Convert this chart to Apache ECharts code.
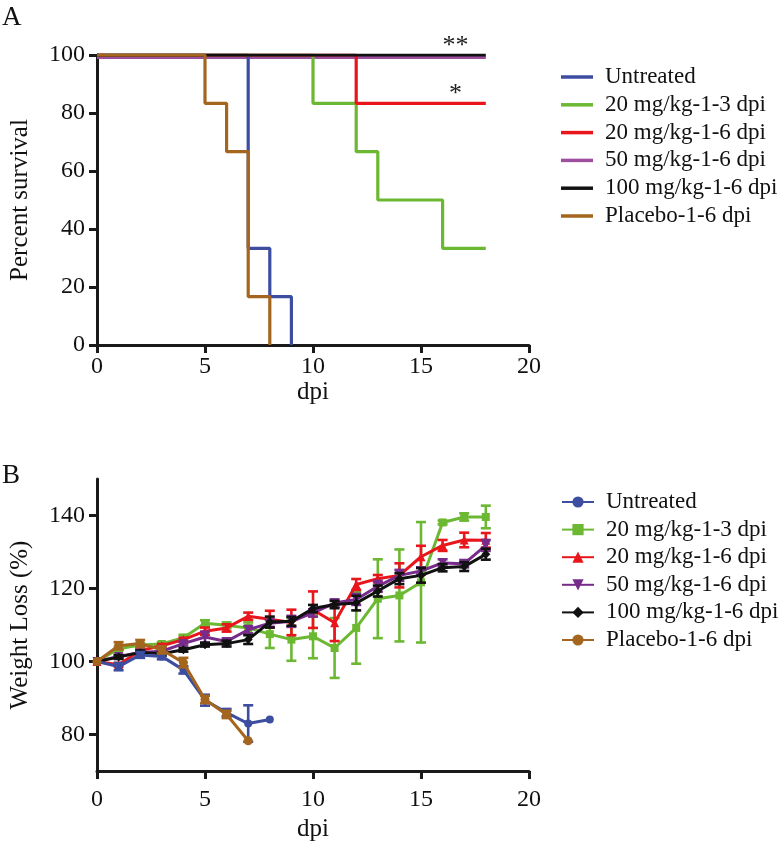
<!DOCTYPE html>
<html>
<head>
<meta charset="utf-8">
<script src="https://cdn.jsdelivr.net/npm/echarts@6/dist/echarts.min.js"></script>
<style>
html,body{margin:0;padding:0;background:#fff;}
#c{width:781px;height:843px;}
</style>
</head>
<body>
<div id="c"></div>
<script>
// ---------- Data ----------
const seriesNames = ['Untreated','20 mg/kg-1-3 dpi','20 mg/kg-1-6 dpi','50 mg/kg-1-6 dpi','100 mg/kg-1-6 dpi','Placebo-1-6 dpi'];
const xTicksA = [0,5,10,15,20];
const yTicksA = [0,20,40,60,80,100];
const yTicksB = [80,100,120,140];

// Panel A: survival step data [dpi, percent]
const survUntreated = [[0,100],[7,33.33],[8,16.67],[9,0]];
const survG20_13    = [[0,100],[10,83.33],[12,66.67],[13,50],[16,33.33],[18,33.33]];
const survG20_16    = [[0,100],[12,83.33],[18,83.33]];
const survG50_16    = [[0,99.2],[18,99.2]];
const survG100_16   = [[0,100],[18,100]];
const survPlacebo   = [[0,100],[5,83.33],[6,66.67],[7,16.67],[8,0]];

// Panel B: weight (%) mean and error per dpi
const dpiB = [0,1,2,3,4,5,6,7,8,9,10,11,12,13,14,15,16,17,18];
const wUntreated = [100,98.6,101.8,101.4,97.7,89.4,86.0,83.0,84.1];
const eUntreated = [0,1,0.8,0.8,1,1.5,1,5,0];
const wG20_13 = [100,103.5,104.5,104.8,106.5,110.5,109.9,109.2,107.5,106.0,106.9,103.7,109.2,117.2,118.1,121.7,138.1,139.6,139.6];
const eG20_13 = [0,0.5,0.5,0.5,0.8,0.8,0.8,1.5,3.8,5.8,6,8.2,9.8,10.8,12.6,16.5,0.5,1,3.1];
const wG20_16 = [100,99.1,103.0,104.3,106.0,108.3,109.2,112.4,111.6,110.7,114.2,110.6,121.1,122.7,123.6,128.7,131.8,133.3,133.2];
const eG20_16 = [0,0.5,0.5,0.5,0.5,1,1,1,2.3,3.5,5,5,1.5,1,3.3,3,1.5,2,2];
const wG50_16 = [100,101.4,102.5,102.8,104.9,106.7,105.5,108.7,110.5,111.0,113.3,116.0,117.0,120.6,123.6,124.8,127.0,126.8,131.8];
const eG50_16 = [0,0.5,0.5,0.5,0.5,1.5,0.8,1,1,1.5,1,1,1.5,1.5,1.5,1,1,1,1.5];
const wG100_16 = [100,101.2,102.5,102.1,103.2,104.6,104.9,106.0,110.8,111.0,114.5,115.6,116.0,119.3,122.7,123.6,125.7,126.0,129.4];
const eG100_16 = [0,0.5,0.5,0.5,0.5,0.5,0.8,1.2,1.5,1.2,1,1,2,1.5,1.5,2,1,1.2,1.5];
const wPlacebo = [100,104.3,104.9,103.2,99.7,89.6,85.5,78.3];
const ePlacebo = [0,1,1,1,1.3,1,1,0];

// ---------- Styling ----------
const FONT = 'Liberation Serif';
const colA = ['#3D4DA0','#6CB832','#E8161C','#9E4FA0','#111111','#A4661E'];
const colB = ['#3D4DA0','#6CB832','#E8161C','#772C8C','#111111','#A4661E'];
const AX = '#1a1a1a';

const chart = echarts.init(document.getElementById('c'), null, {renderer:'canvas'});

function axisCommon(){
  return {
    axisLine:{show:true, onZero:false, lineStyle:{color:AX, width:3}},
    axisTick:{show:true, inside:false, length:8, lineStyle:{color:AX, width:3}},
    splitLine:{show:false},
    axisLabel:{color:'#111', fontFamily:FONT, fontSize:24, margin:12},
    nameTextStyle:{color:'#111', fontFamily:FONT, fontSize:25}
  };
}

const survData = [survUntreated, survG20_13, survG20_16, survG50_16, survG100_16, survPlacebo];
const drawOrderA = [3,0,1,2,4,5];
const wData = [wUntreated, wG20_13, wG20_16, wG50_16, wG100_16, wPlacebo];
const eData = [eUntreated, eG20_13, eG20_16, eG50_16, eG100_16, ePlacebo];
const drawOrderB = [1,2,3,4,0,5];
const symbols = ['circle','rect','triangle','triangle','diamond','circle'];
const symRot = [0,0,0,180,0,0];
const symSize = [8,8,9,9,9,9];

const series = [];
drawOrderA.forEach((i, k) => {
  const s = {
    name: seriesNames[i], type:'line', xAxisIndex:0, yAxisIndex:0,
    data: survData[i], step:'end', symbol:'none', showSymbol:false,
    lineStyle:{color:colA[i], width:3.2}, itemStyle:{color:colA[i]},
    z: 2 + k, silent:true, animation:false
  };
  if (i === 4) {
    s.markPoint = {symbol:'circle', symbolSize:0, silent:true, animation:false,
      data:[{coord:[16.6,100], label:{show:true, formatter:'**', position:'top', distance:-4, color:'#222', fontFamily:FONT, fontSize:26}}]};
  }
  if (i === 2) {
    s.markPoint = {symbol:'circle', symbolSize:0, silent:true, animation:false,
      data:[{coord:[16.6,83.33], label:{show:true, formatter:'*', position:'top', distance:-4, color:'#222', fontFamily:FONT, fontSize:26}}]};
  }
  series.push(s);
});

function errRender(color){
  return function(params, api){
    const x = api.value(0), lo = api.value(1), hi = api.value(2);
    const p1 = api.coord([x, lo]), p2 = api.coord([x, hi]);
    const w = 5;
    const st = {stroke:color, lineWidth:2.6};
    return {type:'group', children:[
      {type:'line', shape:{x1:p1[0],y1:p1[1],x2:p2[0],y2:p2[1]}, style:st},
      {type:'line', shape:{x1:p1[0]-w,y1:p1[1],x2:p1[0]+w,y2:p1[1]}, style:st},
      {type:'line', shape:{x1:p2[0]-w,y1:p2[1],x2:p2[0]+w,y2:p2[1]}, style:st}
    ]};
  };
}

drawOrderB.forEach((i, k) => {
  const pts = wData[i].map((v, j) => [dpiB[j], v]);
  const errs = wData[i].map((v, j) => [dpiB[j], v - eData[i][j], v + eData[i][j]]).filter((d, j) => eData[i][j] > 0);
  series.push({
    name: 'B:' + seriesNames[i], type:'line', xAxisIndex:1, yAxisIndex:1,
    data: pts, symbol: symbols[i], symbolRotate: symRot[i], symbolSize: symSize[i], showSymbol:true,
    lineStyle:{color:colB[i], width:3}, itemStyle:{color:colB[i]},
    z: 10 + k*2, silent:true, animation:false
  });
  series.push({
    type:'custom', xAxisIndex:1, yAxisIndex:1, data: errs,
    renderItem: errRender(colB[i]), z: 11 + k*2, silent:true, animation:false
  });
});

const legendText = {color:'#111', fontFamily:FONT, fontSize:23, lineHeight:26, padding:[0,0,0,7]};

const option = {
  animation:false,
  backgroundColor:'#fff',
  textStyle:{fontFamily:FONT},
  graphic:[
    {type:'text', left:2, top:4, style:{text:'A', fontFamily:FONT, fontSize:27, fill:'#111'}},
    {type:'text', left:2, top:462, style:{text:'B', fontFamily:FONT, fontSize:27, fill:'#111'}}
  ],
  legend:[
    {orient:'vertical', left:556, top:59, itemWidth:32, itemHeight:3.5, itemGap:1.8, icon:'rect',
     textStyle:legendText, selectedMode:false,
     data: seriesNames.map(n => ({name:n}))},
    {orient:'vertical', left:556, top:484, itemWidth:32, itemHeight:14, itemGap:1.6,
     textStyle:legendText, selectedMode:false,
     data: seriesNames.map(n => ({name:'B:' + n})),
     formatter: n => n.replace(/^B:/, '')}
  ],
  grid:[
    {left:92, top:55, width:437, height:290, containLabel:false},
    {left:92, top:479, width:437, height:292, containLabel:false}
  ],
  xAxis:[
    (function(){ const a = axisCommon(); a.axisLabel.margin = 10;
      return Object.assign(a, {gridIndex:0, type:'value', min:0, max:20, interval:5,
      name:'dpi', nameLocation:'middle', nameGap:23}); })(),
    (function(){ const a = axisCommon(); a.axisLabel.margin = 17;
      return Object.assign(a, {gridIndex:1, type:'value', min:0, max:20, interval:5,
      name:'dpi', nameLocation:'middle', nameGap:46}); })()
  ],
  yAxis:[
    Object.assign(axisCommon(), {gridIndex:0, type:'value', min:0, max:100, interval:20,
      name:'Percent survival', nameLocation:'middle', nameGap:64}),
    (function(){
      const a = axisCommon();
      a.axisTick.customValues = yTicksB;
      a.axisLabel.customValues = yTicksB;
      return Object.assign(a, {gridIndex:1, type:'value', min:70, max:150,
        name:'Weight Loss (%)', nameLocation:'middle', nameGap:64});
    })()
  ],
  series: series
};
chart.setOption(option);
</script>
</body>
</html>
